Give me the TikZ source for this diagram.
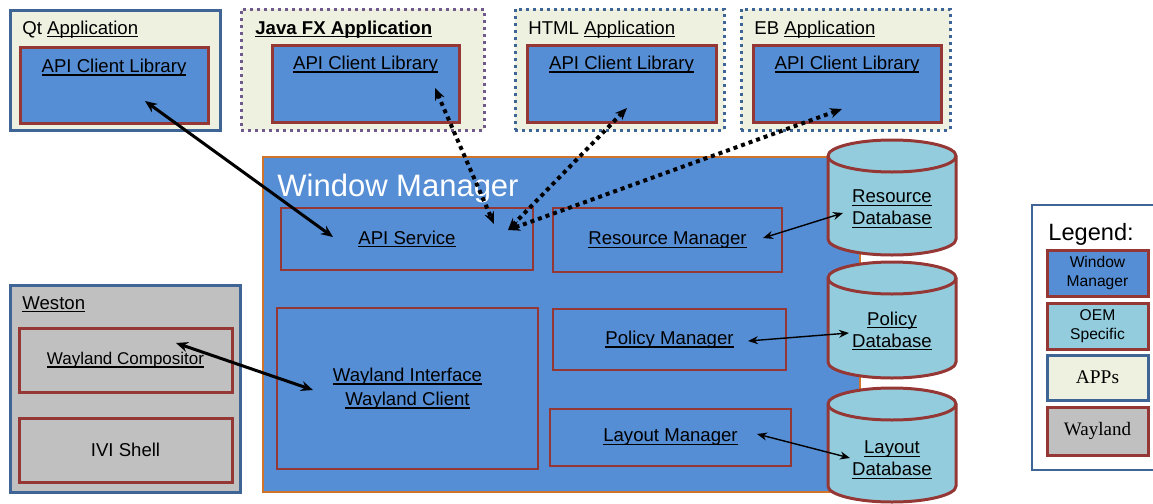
\documentclass[tikz,border=0pt]{standalone}
\usepackage{fontspec}
\setmainfont{Liberation Sans}
\newfontfamily\legserif{Liberation Serif}
\usetikzlibrary{positioning,arrows.meta,shapes.geometric}
\definecolor{wmblue}{HTML}{558ED5}
\definecolor{boxred}{HTML}{953735}
\definecolor{appblue}{HTML}{3F6596}
\definecolor{appbeige}{HTML}{EEF1E0}
\definecolor{javapurple}{HTML}{705A8C}
\definecolor{wmorange}{HTML}{D0742C}
\definecolor{oemblue}{HTML}{93CDDD}
\definecolor{westongray}{HTML}{C0C0C0}
\newcommand\ulin[1]{\setbox0\hbox{#1}\rlap{\rule[-1.6pt]{\wd0}{0.55pt}}\box0}

\begin{document}
\begin{tikzpicture}[x=0.5pt, y=-0.5pt, every node/.style={font=\fontsize{9.3}{11}\selectfont, inner sep=0pt},
  appbox/.style={draw=appblue, line width=1.5pt, fill=appbeige},
  appdot/.style={draw=appblue, line width=1.5pt, dotted, fill=appbeige},
  libbox/.style={draw=boxred, line width=1.5pt, fill=wmblue},
  wmpart/.style={draw=boxred, line width=0.8pt},
  dbshape/.style={draw=boxred, line width=1.5pt, fill=oemblue},
  dblabel/.style={align=center},
  legitem/.style={draw=boxred, line width=1.5pt, minimum width=50.5pt, align=center, font=\fontsize{7.8}{9.5}\selectfont},
  link/.style={{Stealth[length=6pt,width=5pt]}-{Stealth[length=6pt,width=5pt]}, line width=1.5pt},
  dotlink/.style={{Stealth[length=6pt,width=5pt]}-{Stealth[length=6pt,width=5pt]}, line width=2pt, dotted},
  dblink/.style={{Stealth[length=5pt,width=4pt]}-{Stealth[length=5pt,width=4pt]}, line width=0.7pt}]
\useasboundingbox (0,0) rectangle (1153,504);

\node[appbox, minimum width=105pt, minimum height=60pt] (qt) at (115,70) {};
\node[anchor=base west] (qttitle) at (22,34) {Qt \ulin{Application}};
\node[libbox, minimum width=94pt, minimum height=38pt, label={[anchor=north, yshift=-6.5pt]north:\ulin{API Client Library}}] (qtlib) at (114,85) {};

\node[appdot, draw=javapurple, minimum width=121.5pt, minimum height=60.5pt] (java) at (362.5,69.5) {};
\node[anchor=base west] (javatitle) at (255,34) {\bfseries\ulin{Java FX Application}};
\node[libbox, minimum width=93.5pt, minimum height=38.5pt, label={[anchor=north, yshift=-6pt]north:\ulin{API Client Library}}] (javalib) at (365.5,83.5) {};

\node[appdot, minimum width=104.5pt, minimum height=60.5pt] (html) at (619.5,69.5) {};
\node[anchor=base west] (htmltitle) at (528,34) {HTML \ulin{Application}};
\node[libbox, minimum width=94.5pt, minimum height=38.5pt, label={[anchor=north, yshift=-6pt]north:\ulin{API Client Library}}] (htmllib) at (621.5,83.5) {};

\node[appdot, minimum width=104.5pt, minimum height=60.5pt] (eb) at (845.5,69.5) {};
\node[anchor=base west] (ebtitle) at (754,34) {EB \ulin{Application}};
\node[libbox, minimum width=94pt, minimum height=38.5pt, label={[anchor=north, yshift=-6pt]north:\ulin{API Client Library}}] (eblib) at (847,83.5) {};

\node[draw=wmorange, line width=1.3pt, fill=wmblue, minimum width=298.5pt, minimum height=167.5pt] (wm) at (561.5,324.5) {};
\node[anchor=base west, text=white, font=\fontsize{15.5}{18}\selectfont] (wmtitle) at (277,196) {Window Manager};
\node[wmpart, minimum width=126pt, minimum height=31pt] (api) at (407,239) {\ulin{API Service}};
\node[wmpart, minimum width=114.5pt, minimum height=32pt] (resmgr) at (667.5,240) {\ulin{Resource Manager}};
\node[wmpart, minimum width=116.5pt, minimum height=30.5pt] (polmgr) at (669.5,339.5) {\ulin{Policy Manager}};
\node[wmpart, minimum width=120.5pt, minimum height=28.5pt] (laymgr) at (670.5,437.5) {\ulin{Layout Manager}};
\node[wmpart, minimum width=130.5pt, minimum height=80.5pt, align=center] (wlif) at (407.5,388.5) {\ulin{Wayland Interface}\\[1pt]\ulin{Wayland Client}};

\foreach \t/\b in {140/255, 262/378, 388/502} {
  \filldraw[dbshape] (828,\t+16) -- (828,\b-16) arc[start angle=180, end angle=360, x radius=32pt, y radius=8pt]
    -- (956,\t+16) arc[start angle=0, end angle=180, x radius=32pt, y radius=8pt] -- cycle;
  \draw[dbshape, fill=none] (828,\t+16) arc[start angle=180, end angle=360, x radius=32pt, y radius=8pt];
}
\node[dblabel] (resdb) at (892,209) {\ulin{Resource}\\\ulin{Database}};
\node[dblabel] (poldb) at (892,331) {\ulin{Policy}\\\ulin{Database}};
\node[dblabel] (laydb) at (892,460) {\ulin{Layout}\\\ulin{Database}};

\node[appbox, fill=westongray, minimum width=115pt, minimum height=103.5pt] (weston) at (125,388.5) {};
\node[anchor=base west] (westontitle) at (22,309) {\ulin{Weston}};
\node[wmpart, line width=1.5pt, minimum width=106.5pt, minimum height=32pt, font=\fontsize{8.5}{10}\selectfont] (comp) at (125.5,360) {\ulin{Wayland Compositor}};
\node[wmpart, line width=1.5pt, minimum width=106.5pt, minimum height=32pt] (ivi) at (125.5,450) {IVI Shell};

\node[draw=appblue, line width=1pt, fill=white, minimum width=66.5pt, minimum height=132.5pt] (legend) at (1098.5,337.5) {};
\node[anchor=base west, font=\fontsize{11.8}{14}\selectfont] (legtitle) at (1048,240) {Legend:};
\node[legitem, fill=wmblue, minimum height=23pt] (legwm) at (1097.5,273) {Window\\Manager};
\node[legitem, fill=oemblue, minimum height=23pt] (legoem) at (1097.5,326) {OEM\\Specific};
\node[legitem, draw=appblue, fill=appbeige, minimum height=22.5pt, font=\legserif\fontsize{9.7}{11}\selectfont] (legapp) at (1097.5,377.5) {APPs};
\node[legitem, fill=westongray, minimum height=24pt, font=\legserif\fontsize{9.5}{11}\selectfont] (legwl) at (1097.5,431) {Wayland};

\coordinate (qtport) at (145,101);
\coordinate (javaport) at (435,88);
\coordinate (htmlport) at (627,108);
\coordinate (ebport) at (842,109);
\coordinate (apiin) at (333,237);
\coordinate (apijava) at (494,224);
\coordinate (apiweb) at (508,230);
\coordinate (resin) at (763,238);
\coordinate (resdbin) at (843,213);
\coordinate (polin) at (748,341);
\coordinate (poldbin) at (849,333);
\coordinate (layin) at (757,434);
\coordinate (laydbin) at (850,458);
\coordinate (compin) at (176,343);
\coordinate (wlin) at (313,390);

\draw[link] (qtport) -- (apiin);
\draw[dotlink] (javaport) -- (apijava);
\draw[dotlink] (htmlport) -- (apiweb);
\draw[dotlink] (ebport) -- (apiweb);
\draw[dblink] (resin) -- (resdbin);
\draw[dblink] (polin) -- (poldbin);
\draw[dblink] (layin) -- (laydbin);
\draw[link] (compin) -- (wlin);
\end{tikzpicture}
\end{document}
